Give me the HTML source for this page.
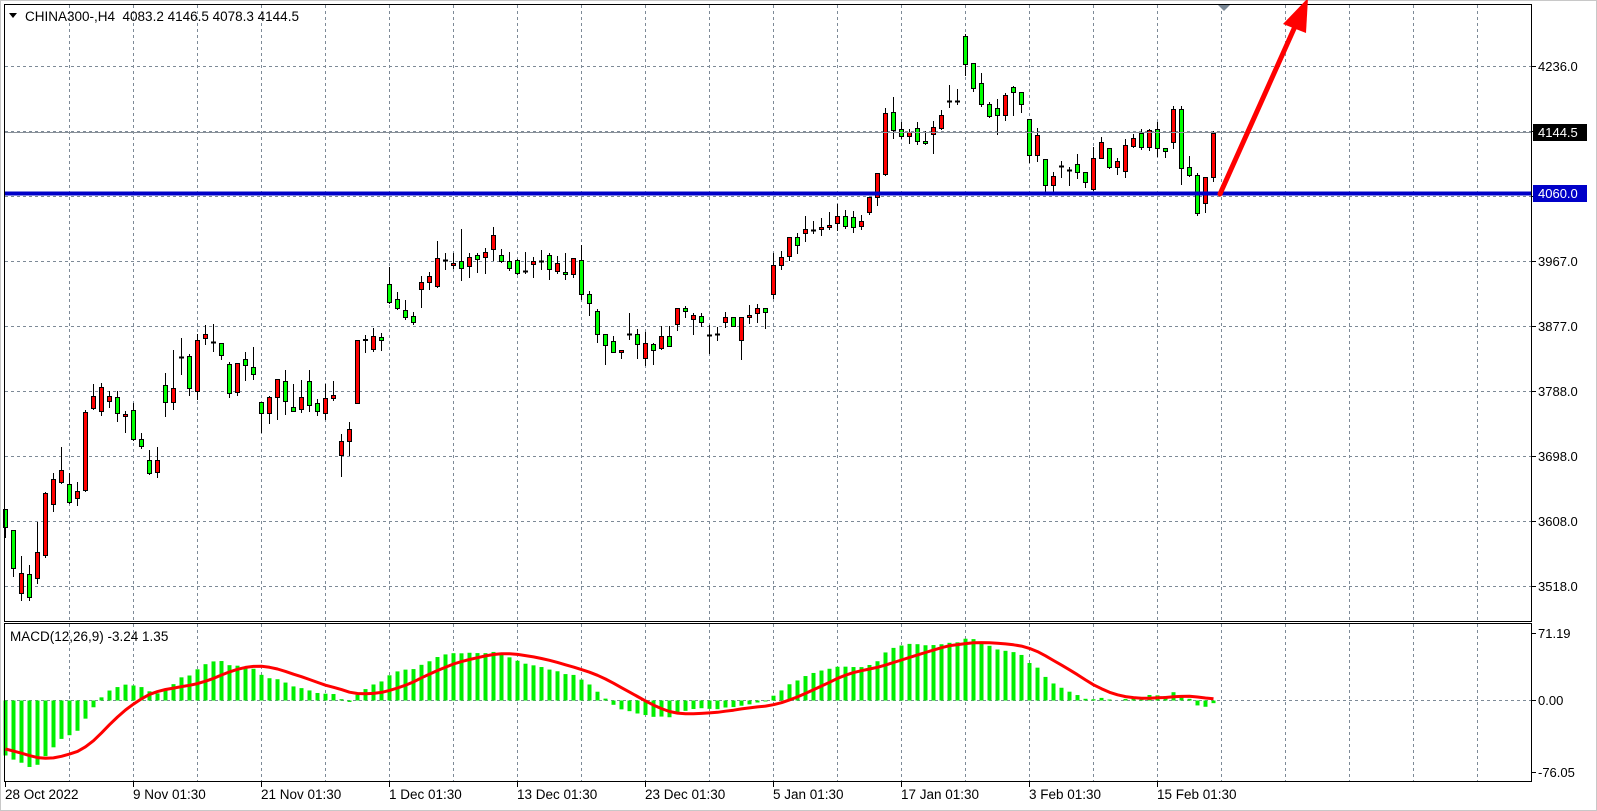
<!DOCTYPE html>
<html><head><meta charset="utf-8">
<style>
html,body{margin:0;padding:0;background:#fff;width:1597px;height:811px;overflow:hidden;}
svg{display:block;font-family:"Liberation Sans",Tahoma,sans-serif;}
</style></head>
<body>
<svg id="s" width="1597" height="811" xmlns="http://www.w3.org/2000/svg">
<rect x="0.5" y="0.5" width="1596" height="810" fill="#fff" stroke="#c8c8c8"/>
<g id="grid"></g>
<g id="macd"></g>
<g id="cand"></g>
<line x1="4" y1="132.5" x2="1532" y2="132.5" stroke="#8a9199" stroke-width="1"/>
<rect x="4" y="191.5" width="1528" height="4" fill="#0000c8"/>
<rect x="4.5" y="4.5" width="1527" height="617" fill="none" stroke="#000"/>
<rect x="4.5" y="623.5" width="1527" height="158" fill="none" stroke="#000"/>
<polygon points="9,13 17,13 13,18" fill="#000"/>
<text x="25" y="21" font-size="13.5" fill="#000">CHINA300-,H4&#160; 4083.2 4146.5 4078.3 4144.5</text>
<text x="10" y="641" font-size="13.5" fill="#000">MACD(12,26,9) -3.24 1.35</text>
<polygon points="1218,5 1230,5 1224,11" fill="#7a8896"/>
<line x1="1220" y1="194" x2="1297" y2="22" stroke="#ff0000" stroke-width="5" stroke-linecap="round"/>
<polygon points="1308,-2 1283,24 1306,33" fill="#ff0000"/>
<g font-size="13" fill="#000" id="axis"></g>
<rect x="1533" y="124" width="54" height="17" fill="#000"/>
<text x="1538" y="137" font-size="13" fill="#fff">4144.5</text>
<rect x="1533" y="185" width="54" height="17" fill="#0000c8"/>
<text x="1538" y="198" font-size="13" fill="#fff">4060.0</text>
</svg>
<script>
var NS="http://www.w3.org/2000/svg";
function el(p,t,a,txt){var e=document.createElementNS(NS,t);for(var k in a)e.setAttribute(k,a[k]);if(txt!=null)e.textContent=txt;p.appendChild(e);return e;}
var grid=document.getElementById('grid'),cand=document.getElementById('cand'),mg=document.getElementById('macd'),ax=document.getElementById('axis');
var gc="#7d8a97";
for(var k=0;k<=22;k++){var x=69.5+64*k;
 el(grid,'line',{x1:x,y1:5,x2:x,y2:621,stroke:gc,'stroke-dasharray':'3,3'});
 el(grid,'line',{x1:x,y1:624,x2:x,y2:781,stroke:gc,'stroke-dasharray':'3,3'});}
var hy=[66,131,196,261,326,391,456,521,586];
hy.forEach(function(y){el(grid,'line',{x1:5,y1:y+.5,x2:1531,y2:y+.5,stroke:gc,'stroke-dasharray':'3,3'});
 el(ax,'line',{x1:1532,y1:y+.5,x2:1536,y2:y+.5,stroke:'#000'});});
el(grid,'line',{x1:5,y1:700.5,x2:1531,y2:700.5,stroke:gc,'stroke-dasharray':'3,3'});
var labs=[[66,"4236.0"],[261,"3967.0"],[326,"3877.0"],[391,"3788.0"],[456,"3698.0"],[521,"3608.0"],[586,"3518.0"]];
labs.forEach(function(l){el(ax,'text',{x:1538,y:l[0]+5},l[1]);});
[[633,"71.19"],[700,"0.00"],[772,"-76.05"]].forEach(function(l){el(ax,'line',{x1:1532,y1:l[0]+.5,x2:1536,y2:l[0]+.5,stroke:'#000'});el(ax,'text',{x:1538,y:l[0]+5},l[1]);});
var d=["28 Oct 2022","9 Nov 01:30","21 Nov 01:30","1 Dec 01:30","13 Dec 01:30","23 Dec 01:30","5 Jan 01:30","17 Jan 01:30","3 Feb 01:30","15 Feb 01:30"];
d.forEach(function(t,i){var x=5+128*i;el(ax,'line',{x1:x+.5,y1:782,x2:x+.5,y2:787,stroke:'#000'});el(ax,'text',{x:x,y:799,'font-size':'13.5'},t);});
var D=[[509,527,509,537],[530,568,530,576],[593,573,556,600],[574,597,565,600],[578,552,522,583],[555,493,492,557],[504,479,473,511],[482,470,447,483],[484,502,473,503],[498,491,482,505],
[490,412,410,491],[408,396,384,409],[411,387,383,415],[401,396,391,407],[397,413,391,421],[416,414,411,432],[410,439,403,440],[439,446,433,448],[460,473,450,474],[472,460,447,477],
[385,402,373,416],[402,388,350,409],[357,357,338,374],[356,388,354,395],[391,340,334,399],[338,334,325,344],[342,342,324,351],[343,355,343,359],[364,393,362,397],[392,363,363,395],
[359,365,352,380],[367,374,347,379],[402,413,402,432],[413,397,396,423],[397,379,379,419],[381,401,370,414],[407,411,384,411],[409,397,380,412],[381,405,370,411],[403,411,399,415],
[413,398,384,419],[398,395,381,400],[455,441,434,476],[441,429,422,455],[403,340,340,403],[340,339,335,352],[349,336,328,351],[337,340,333,350],[284,302,267,303],[299,308,292,309],
[310,317,300,319],[316,322,312,324],[289,282,276,307],[282,276,272,289],[286,258,241,287],[260,260,253,269],[265,263,253,268],[261,268,229,280],[266,257,253,277],[255,259,253,272],
[257,252,248,273],[249,235,227,260],[255,261,249,262],[261,268,252,270],[260,273,259,274],[271,271,252,273],[264,261,257,277],[261,261,250,269],[255,269,253,279],[271,263,256,273],
[272,274,253,279],[274,258,258,277],[260,294,245,299],[294,303,291,315],[311,334,309,342],[334,345,334,364],[341,352,336,352],[352,350,350,358],[334,334,313,339],[334,344,329,358],
[358,343,332,365],[344,350,343,364],[348,336,326,349],[336,346,326,346],[324,308,308,330],[308,311,306,317],[319,315,313,334],[316,322,313,326],[335,335,325,353],[334,334,327,340],
[322,317,312,327],[317,326,317,326],[340,317,317,359],[317,315,305,323],[313,308,304,322],[308,312,308,328],[294,265,253,298],[265,257,251,269],[256,237,237,260],[237,245,233,253],
[233,229,216,241],[230,230,221,233],[229,227,218,235],[227,225,212,229],[223,216,204,230],[216,226,210,228],[217,227,211,232],[226,221,215,229],[212,197,197,214],[197,173,173,205],
[174,113,108,175],[112,130,97,138],[129,136,122,138],[136,132,129,143],[128,141,122,144],[141,143,131,144],[134,127,121,153],[128,115,110,129],[101,101,85,107],[101,101,89,104],
[36,64,34,75],[63,88,63,91],[83,104,73,106],[104,116,102,117],[108,115,99,134],[115,95,93,120],[87,92,86,115],[92,104,92,112],[119,155,119,162],[155,135,128,161],
[159,185,159,192],[185,176,172,192],[166,166,161,177],[170,170,167,185],[164,172,154,178],[172,182,172,187],[189,158,147,190],[158,142,137,158],[148,167,148,168],[167,161,158,174],
[171,145,139,177],[146,138,134,147],[133,147,129,149],[147,130,129,150],[129,148,122,156],[148,151,148,157],[142,109,106,148],[109,168,106,184],[167,175,156,176],[175,213,173,215],
[203,177,177,212],[177,133,131,181]];
D.forEach(function(c,k){var x=5.5+8*k,o=c[0],cl=c[1],h=c[2],l=c[3];
 el(cand,'line',{x1:x,y1:h,x2:x,y2:l+1,stroke:'#000','stroke-width':1});
 var top=Math.min(o,cl),bot=Math.max(o,cl);
 if(bot-top<1){el(cand,'line',{x1:x-2.5,y1:top+.5,x2:x+2.5,y2:top+.5,stroke:'#000','stroke-width':2});}
 else{var col=cl<o?'#ff0000':'#00ff00';el(cand,'rect',{x:x-2,y:top+.5,width:4,height:bot-top,fill:col,stroke:'#000','stroke-width':1});}
});
function price(y){return 4236-(y-66)/0.7242;}
var closes=[];
for(var i=0;i<35;i++)closes.push(3930-4*i);
for(var i=0;i<16;i++)closes.push(3790-12*(i+1));
var pre=closes.length;
D.forEach(function(c){closes.push(price(c[1]));});
function ema(a,n){var r=[],al=2/(n+1),e=a[0];for(var i=0;i<a.length;i++){e=i==0?a[0]:e+al*(a[i]-e);r.push(e);}return r;}
var e12=ema(closes,12),e26=ema(closes,26),m=[];
for(var i=0;i<closes.length;i++)m.push(e12[i]-e26[i]);
var sig=[];for(var i=0;i<m.length;i++){var s=0,n=0;for(var j=Math.max(0,i-8);j<=i;j++){s+=m[j];n++;}sig.push(s/n);}
function my(v){var y=700-v*0.951;return Math.max(625,Math.min(781,y));}
var pts=[];
for(var k=0;k<D.length;k++){var v=m[pre+k],x=5.5+8*k,y=my(v);
 var t=Math.min(y,700.5),b=Math.max(y,700.5);
 if(b-t>0.5)el(mg,'rect',{x:x-2,y:t,width:4,height:b-t,fill:'#00ee00'});
 pts.push((x).toFixed(1)+','+my(sig[pre+k]).toFixed(1));}
el(mg,'polyline',{points:pts.join(' '),fill:'none',stroke:'#ff0000','stroke-width':3,'stroke-linejoin':'round'});
</script>
</body></html>
